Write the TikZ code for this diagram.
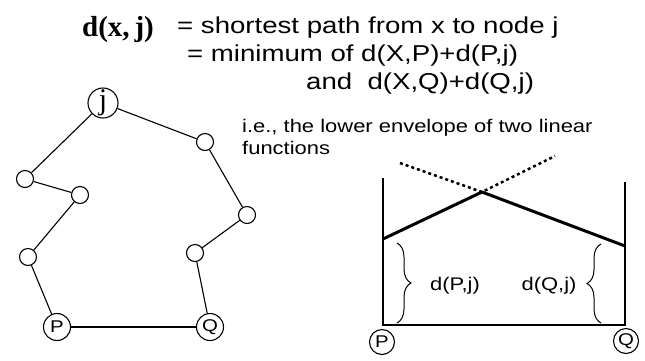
\documentclass[tikz,border=0pt]{standalone}
\usepackage{fontspec}
\setmainfont{Liberation Serif}
\newfontfamily\macfont[FakeStretch=1.2]{Liberation Sans}
\usetikzlibrary{decorations.pathreplacing}

\begin{document}
\begin{tikzpicture}[x=1pt,y=-1pt,
    vertex/.style={draw,circle,line width=1.1pt,inner sep=0pt,minimum size=17pt},
    endpt/.style={draw,circle,line width=1.1pt,inner sep=0pt,minimum size=27pt,
      font=\macfont\fontsize{17}{17}\selectfont},
    txt/.style={anchor=base west,inner sep=0pt,font=\macfont\fontsize{23}{23}\selectfont},
    small/.style={anchor=base west,inner sep=0pt,font=\macfont\fontsize{18.3}{18.3}\selectfont},
    edge/.style={line width=1.1pt},
    envelope/.style={line width=3pt},
    extension/.style={line width=2.5pt,dash pattern=on 3pt off 3pt},
    bracket/.style={line width=1pt,decorate,decoration={brace,amplitude=14pt}}]
  \useasboundingbox (0,0) rectangle (645,360);
  % heading
  \node[anchor=base west,inner sep=0pt,font=\bfseries\fontsize{29}{29}\selectfont] (dxj) at (82,36) {d(x,\,j)};
  \node[txt] (line1) at (177,33) {= shortest path from x to node j};
  \node[txt] (line2) at (187,61) {= minimum of d(X,P)+d(P,j)};
  \node[txt] (line3) at (306,89) {and\ \ d(X,Q)+d(Q,j)};
  \node[small] (line4) at (242,132) {i.e., the lower envelope of two linear};
  \node[small] (line5) at (242,154) {functions};
  % graph
  \node[vertex,minimum size=30pt,font=\fontsize{30}{30}\selectfont] (j) at (103,103) {j};
  \node[vertex] (n1) at (25,179) {};
  \node[vertex] (n2) at (80,195) {};
  \node[vertex] (n3) at (28,257) {};
  \node[endpt] (P) at (57,327) {P};
  \node[endpt] (Q) at (210,327) {Q};
  \node[vertex] (n4) at (195,253) {};
  \node[vertex] (n5) at (247,215) {};
  \node[vertex] (n6) at (205,142) {};
  \foreach \a/\b in {j/n1,n1/n2,n2/n3,n3/P,P/Q,Q/n4,n4/n5,n5/n6,n6/j}
    \draw[edge] (\a) -- (\b);
  % two linear functions
  \node[endpt,minimum size=25pt] (Pc) at (382,342) {P};
  \node[endpt,minimum size=25pt] (Qc) at (626,341) {Q};
  \coordinate (pb) at (383,325);
  \coordinate (qb) at (625,325);
  \coordinate (pt) at (383,178);
  \coordinate (qt) at (625,182);
  \coordinate (pa) at (383,239);
  \coordinate (qa) at (625,246);
  \coordinate (x) at (482,192);
  \draw[edge] (pt) -- (pb) -- (qb) -- (qt);
  \draw[envelope,line join=round] (pa) -- (x) -- (qa);
  \draw[extension] (400,163) -- (x) -- (555,156);
  \draw[bracket] (397,243) -- (397,323);
  \draw[bracket] (601,323) -- (601,244);
  \node[small,anchor=center] (dpj) at (455,286) {d(P,j)};
  \node[small,anchor=center] (dqj) at (549,286) {d(Q,j)};
\end{tikzpicture}
\end{document}
